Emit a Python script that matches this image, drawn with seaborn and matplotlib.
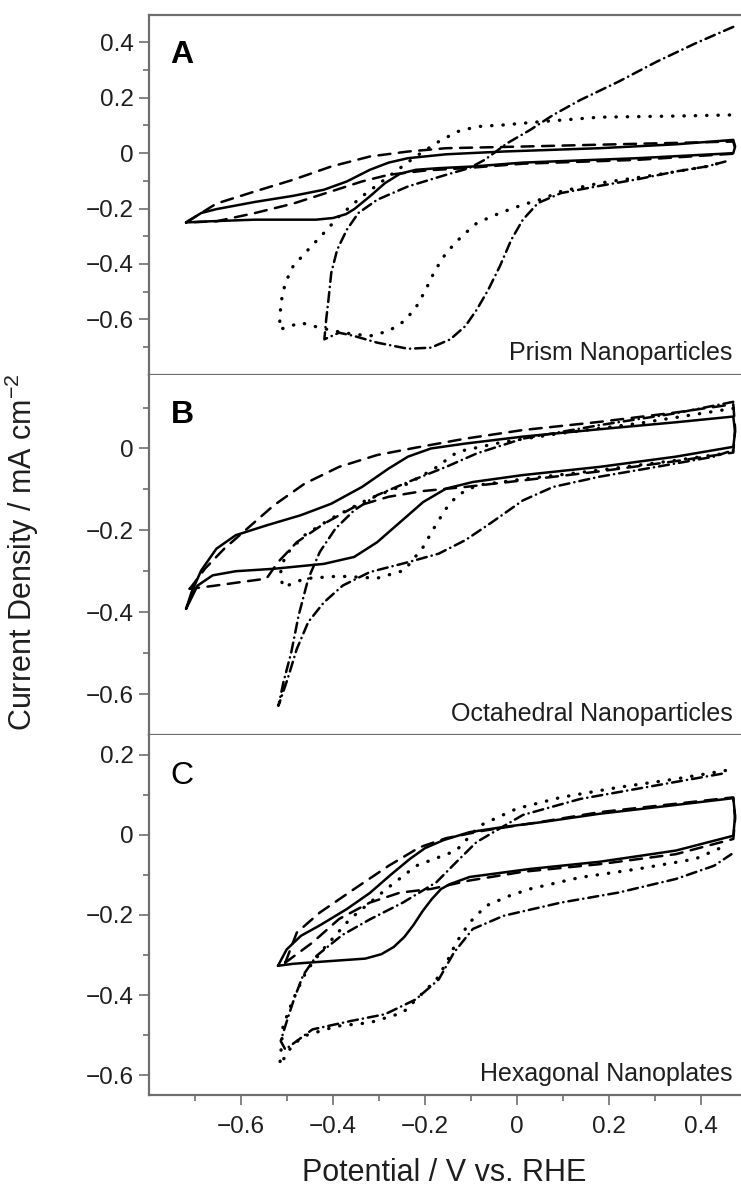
import matplotlib
matplotlib.use("Agg")
import matplotlib.pyplot as plt
import seaborn as sns

# ---- panel A: prism nanoparticles ----
a_solid_x = [-0.720, -0.687, -0.654, -0.570, -0.487, -0.420, -0.370, -0.320, -0.279, -0.237, -0.154, -0.029,
             0.180, 0.346, 0.471, 0.475, 0.471, 0.263, 0.013, -0.096, -0.170, -0.220, -0.254, -0.287, -0.320,
             -0.354, -0.372, -0.400, -0.437, -0.570, -0.670, -0.720]
a_solid_y = [-0.250, -0.216, -0.202, -0.176, -0.154, -0.132, -0.102, -0.060, -0.034, -0.018, -0.004, 0.006,
             0.018, 0.032, 0.048, 0.024, 0.000, -0.018, -0.034, -0.048, -0.054, -0.060, -0.074, -0.108, -0.156,
             -0.202, -0.220, -0.234, -0.240, -0.240, -0.246, -0.250]
a_dash_x = [-0.720, -0.654, -0.570, -0.487, -0.404, -0.320, -0.237, -0.154, 0.013, 0.263, 0.471, 0.475, 0.471,
            0.263, 0.013, -0.112, -0.196, -0.279, -0.337, -0.404, -0.487, -0.570, -0.654, -0.720]
a_dash_y = [-0.250, -0.182, -0.138, -0.096, -0.048, -0.012, 0.006, 0.018, 0.024, 0.034, 0.042, 0.018, -0.002,
            -0.024, -0.038, -0.054, -0.062, -0.078, -0.102, -0.138, -0.182, -0.216, -0.246, -0.250]
a_dot_x = [0.463, 0.346, 0.180, 0.054, -0.029, -0.087, -0.129, -0.170, -0.220, -0.279, -0.337, -0.387, -0.420,
           -0.454, -0.487, -0.504, -0.512, -0.516, -0.516, -0.470, -0.429, -0.379, -0.320, -0.279, -0.245,
           -0.220, -0.200, -0.179, -0.154, -0.120, -0.087, -0.037, 0.013, 0.054, 0.096, 0.180, 0.304, 0.413,
           0.454]
a_dot_y = [0.138, 0.134, 0.130, 0.114, 0.102, 0.096, 0.078, 0.042, -0.012, -0.084, -0.156, -0.228, -0.288,
           -0.348, -0.408, -0.468, -0.528, -0.588, -0.636, -0.612, -0.630, -0.648, -0.660, -0.642, -0.606,
           -0.558, -0.498, -0.426, -0.360, -0.300, -0.252, -0.216, -0.186, -0.166, -0.138, -0.108, -0.078,
           -0.048, -0.030]
a_dashdot_x = [0.471, 0.388, 0.304, 0.221, 0.138, 0.079, 0.029, -0.021, -0.070, -0.104, -0.154, -0.237, -0.304,
               -0.345, -0.370, -0.391, -0.404, -0.410, -0.415, -0.419, -0.387, -0.354, -0.304, -0.237, -0.187,
               -0.145, -0.112, -0.087, -0.062, -0.037, -0.012, 0.013, 0.046, 0.096, 0.180, 0.263, 0.346, 0.413,
               0.454]
a_dashdot_y = [0.456, 0.396, 0.330, 0.258, 0.192, 0.138, 0.084, 0.036, -0.024, -0.054, -0.078, -0.120, -0.168,
               -0.216, -0.276, -0.348, -0.432, -0.528, -0.600, -0.672, -0.648, -0.660, -0.684, -0.706, -0.702,
               -0.672, -0.624, -0.564, -0.492, -0.408, -0.312, -0.240, -0.180, -0.144, -0.118, -0.094, -0.066,
               -0.048, -0.030]

# ---- panel B: octahedral nanoparticles ----
b_solid_x = [-0.720, -0.708, -0.687, -0.654, -0.612, -0.545, -0.470, -0.404, -0.337, -0.279, -0.237, -0.187,
             -0.112, 0.013, 0.180, 0.346, 0.471, 0.475, 0.471, 0.346, 0.180, 0.013, -0.096, -0.154, -0.204,
             -0.254, -0.304, -0.354, -0.420, -0.529, -0.612, -0.662, -0.695, -0.720]
b_solid_y = [-0.392, -0.351, -0.298, -0.245, -0.212, -0.188, -0.163, -0.135, -0.094, -0.049, -0.020, 0.000,
             0.012, 0.029, 0.047, 0.064, 0.078, 0.041, 0.004, -0.020, -0.045, -0.065, -0.082, -0.098, -0.131,
             -0.180, -0.229, -0.265, -0.282, -0.294, -0.300, -0.310, -0.335, -0.392]
b_dash_x = [-0.712, -0.679, -0.637, -0.587, -0.529, -0.462, -0.387, -0.304, -0.220, -0.112, 0.013, 0.180, 0.346,
            0.471, 0.475, 0.471, 0.346, 0.180, 0.013, -0.112, -0.204, -0.279, -0.354, -0.420, -0.479, -0.520,
            -0.545, -0.604, -0.662, -0.712]
b_dash_y = [-0.343, -0.294, -0.245, -0.196, -0.139, -0.086, -0.045, -0.016, 0.002, 0.024, 0.045, 0.065, 0.088,
            0.108, 0.049, -0.010, -0.031, -0.056, -0.078, -0.094, -0.104, -0.118, -0.143, -0.184, -0.229, -0.278,
            -0.318, -0.327, -0.336, -0.343]
b_dot_x = [0.471, 0.263, 0.096, -0.029, -0.129, -0.179, -0.237, -0.320, -0.404, -0.462, -0.504, -0.516, -0.508,
           -0.462, -0.387, -0.304, -0.245, -0.204, -0.175, -0.154, -0.129, -0.087, 0.013, 0.180, 0.346, 0.454]
b_dot_y = [0.098, 0.061, 0.037, 0.016, -0.008, -0.049, -0.086, -0.122, -0.171, -0.212, -0.261, -0.310, -0.339,
           -0.318, -0.312, -0.317, -0.298, -0.241, -0.184, -0.147, -0.114, -0.090, -0.075, -0.053, -0.029, -0.012]
b_dashdot_x = [0.471, 0.346, 0.180, 0.013, -0.087, -0.154, -0.237, -0.304, -0.354, -0.395, -0.429, -0.454,
               -0.475, -0.491, -0.508, -0.519, -0.499, -0.479, -0.454, -0.420, -0.379, -0.320, -0.237, -0.170,
               -0.112, -0.054, 0.013, 0.079, 0.180, 0.304, 0.429, 0.471]
b_dashdot_y = [0.114, 0.086, 0.057, 0.024, -0.012, -0.045, -0.082, -0.114, -0.151, -0.196, -0.253, -0.318,
               -0.408, -0.498, -0.571, -0.629, -0.563, -0.490, -0.424, -0.376, -0.335, -0.302, -0.278, -0.257,
               -0.224, -0.180, -0.127, -0.094, -0.069, -0.045, -0.020, -0.004]

# ---- panel C: hexagonal nanoplates ----
c_solid_x = [-0.520, -0.501, -0.470, -0.429, -0.370, -0.320, -0.275, -0.233, -0.200, -0.160, -0.103, -0.029,
             0.054, 0.180, 0.346, 0.471, 0.475, 0.471, 0.346, 0.180, 0.028, -0.103, -0.146, -0.165, -0.185,
             -0.205, -0.225, -0.245, -0.268, -0.295, -0.330, -0.429, -0.487, -0.520]
c_solid_y = [-0.327, -0.286, -0.252, -0.226, -0.185, -0.145, -0.100, -0.060, -0.033, -0.013, 0.007, 0.020,
             0.032, 0.053, 0.075, 0.092, 0.048, -0.002, -0.039, -0.067, -0.085, -0.105, -0.123, -0.135, -0.160,
             -0.190, -0.225, -0.255, -0.280, -0.298, -0.309, -0.317, -0.322, -0.327]
c_dash_x = [-0.504, -0.479, -0.429, -0.354, -0.279, -0.212, -0.154, -0.071, 0.054, 0.180, 0.346, 0.471, 0.475,
            0.471, 0.346, 0.180, 0.013, -0.104, -0.187, -0.254, -0.320, -0.387, -0.445, -0.504]
c_dash_y = [-0.319, -0.244, -0.194, -0.135, -0.077, -0.031, -0.008, 0.011, 0.033, 0.057, 0.078, 0.094, 0.040,
            -0.010, -0.048, -0.073, -0.092, -0.114, -0.135, -0.144, -0.169, -0.210, -0.269, -0.319]
c_dot_x = [0.454, 0.346, 0.221, 0.096, 0.000, -0.081, -0.132, -0.219, -0.284, -0.364, -0.422, -0.458, -0.487,
           -0.509, -0.516, -0.490, -0.465, -0.393, -0.320, -0.248, -0.212, -0.175, -0.153, -0.132, -0.103,
           -0.067, -0.016, 0.028, 0.138, 0.263, 0.388, 0.454]
c_dot_y = [0.161, 0.140, 0.119, 0.094, 0.066, 0.023, -0.039, -0.077, -0.135, -0.211, -0.286, -0.340, -0.411,
           -0.478, -0.575, -0.528, -0.503, -0.478, -0.469, -0.444, -0.403, -0.361, -0.319, -0.269, -0.219,
           -0.177, -0.152, -0.135, -0.106, -0.085, -0.060, -0.027]
c_dashdot_x = [0.446, 0.304, 0.138, 0.013, -0.088, -0.132, -0.175, -0.248, -0.320, -0.380, -0.436, -0.465,
               -0.485, -0.502, -0.514, -0.504, -0.445, -0.362, -0.287, -0.220, -0.170, -0.137, -0.096, -0.029,
               0.096, 0.221, 0.346, 0.429, 0.467]
c_dashdot_y = [0.153, 0.124, 0.090, 0.050, -0.018, -0.068, -0.118, -0.169, -0.211, -0.250, -0.302, -0.350,
               -0.410, -0.470, -0.515, -0.536, -0.486, -0.465, -0.448, -0.411, -0.361, -0.294, -0.235, -0.202,
               -0.169, -0.144, -0.110, -0.077, -0.048]

panel_letters = ["A", "B", "C"]
panel_names = ["Prism Nanoparticles", "Octahedral Nanoparticles", "Hexagonal Nanoplates"]
panel_ylims = [(-0.8, 0.5), (-0.70, 0.18), (-0.65, 0.25)]
panel_yticks = [[-0.6, -0.4, -0.2, 0, 0.2, 0.4], [-0.6, -0.4, -0.2, 0], [-0.6, -0.4, -0.2, 0, 0.2]]
panel_yticklabels = [["−0.6", "−0.4", "−0.2", "0", "0.2", "0.4"], ["−0.6", "−0.4", "−0.2", "0"],
                     ["−0.6", "−0.4", "−0.2", "0", "0.2"]]
panel_yminor = [[-0.7, -0.5, -0.3, -0.1, 0.1, 0.3], [-0.5, -0.3, -0.1, 0.1], [-0.5, -0.3, -0.1, 0.1]]
xticks = [-0.6, -0.4, -0.2, 0, 0.2, 0.4]
xticklabels = ["−0.6", "−0.4", "−0.2", "0", "0.2", "0.4"]
xminor = [-0.7, -0.5, -0.3, -0.1, 0.1, 0.3]

panels = [
    [(a_solid_x, a_solid_y, "solid"), (a_dash_x, a_dash_y, "dashed"),
     (a_dot_x, a_dot_y, "dotted"), (a_dashdot_x, a_dashdot_y, "dashdot")],
    [(b_solid_x, b_solid_y, "solid"), (b_dash_x, b_dash_y, "dashed"),
     (b_dot_x, b_dot_y, "dotted"), (b_dashdot_x, b_dashdot_y, "dashdot")],
    [(c_solid_x, c_solid_y, "solid"), (c_dash_x, c_dash_y, "dashed"),
     (c_dot_x, c_dot_y, "dotted"), (c_dashdot_x, c_dashdot_y, "dashdot")],
]

# linestyle and linewidth per curve type
line_styles = {
    "solid": ("-", 1.8),
    "dashed": ((0, (4.8, 3.4)), 1.8),
    "dotted": ((0, (0.1, 3.3)), 2.4),
    "dashdot": ((0, (4.0, 2.0, 0.1, 2.0)), 1.8),
}

sns.set_theme(style="ticks")
plt.rcParams["font.family"] = ["Liberation Sans", "DejaVu Sans"]
plt.rcParams["mathtext.fontset"] = "custom"
plt.rcParams["mathtext.rm"] = "Liberation Sans"
plt.rcParams["mathtext.it"] = "Liberation Sans"

spine_col = "#6e6e6e"
text_col = "#1e1e1e"

fig, axes = plt.subplots(3, 1, figsize=(7.41, 11.93), dpi=100, sharex=True)
fig.subplots_adjust(left=0.2015, right=0.9995, top=0.9877, bottom=0.0821, hspace=0)

for i, ax in enumerate(axes):
    for xs, ys, kind in panels[i]:
        ls, lw = line_styles[kind]
        sns.lineplot(x=xs, y=ys, ax=ax, sort=False, estimator=None, color="black",
                     lw=lw, linestyle=ls, dash_capstyle="round", solid_joinstyle="round")

    ax.set_xlim(-0.8, 0.487)
    ax.set_ylim(*panel_ylims[i])
    ax.set_yticks(panel_yticks[i])
    ax.set_yticklabels(panel_yticklabels[i])
    ax.set_yticks(panel_yminor[i], minor=True)
    ax.set_xticks(xticks)
    ax.set_xticks(xminor, minor=True)

    ax.spines["right"].set_visible(False)
    ax.spines["top"].set_visible(i == 0)
    for s in ["left", "bottom", "top"]:
        ax.spines[s].set_color(spine_col)
        ax.spines[s].set_linewidth(1.6)

    ax.tick_params(axis="y", which="major", direction="out", length=7, width=1.2, color=spine_col,
                   labelsize=17.5, labelcolor=text_col, pad=4)
    ax.tick_params(axis="y", which="minor", direction="out", length=4, width=1.2, color=spine_col)
    if i < 2:
        ax.tick_params(axis="x", which="both", bottom=False, labelbottom=False)
    else:
        ax.tick_params(axis="x", which="major", direction="out", length=7, width=1.2, color=spine_col,
                       labelsize=17.5, labelcolor=text_col, pad=8)
        ax.tick_params(axis="x", which="minor", direction="out", length=4, width=1.2, color=spine_col)
        ax.set_xticklabels(xticklabels)

    ax.set_xlabel("")
    ax.set_ylabel("")
    ax.text(0.036, 0.865, panel_letters[i], transform=ax.transAxes, fontsize=23,
            fontweight="bold" if i < 2 else "normal", color="black", ha="left", va="baseline")
    ax.text(0.986, 0.04, panel_names[i], transform=ax.transAxes, fontsize=18,
            color=text_col, ha="right", va="baseline")

fig.text(0.6, 0.004, "Potential / V vs. RHE", fontsize=22, color=text_col, ha="center", va="bottom")
fig.text(0.03, 0.537, "Current Density / mA cm$^{-2}$", fontsize=22, color=text_col,
         rotation=90, ha="center", va="center")

fig.savefig("out.png", dpi=100)
